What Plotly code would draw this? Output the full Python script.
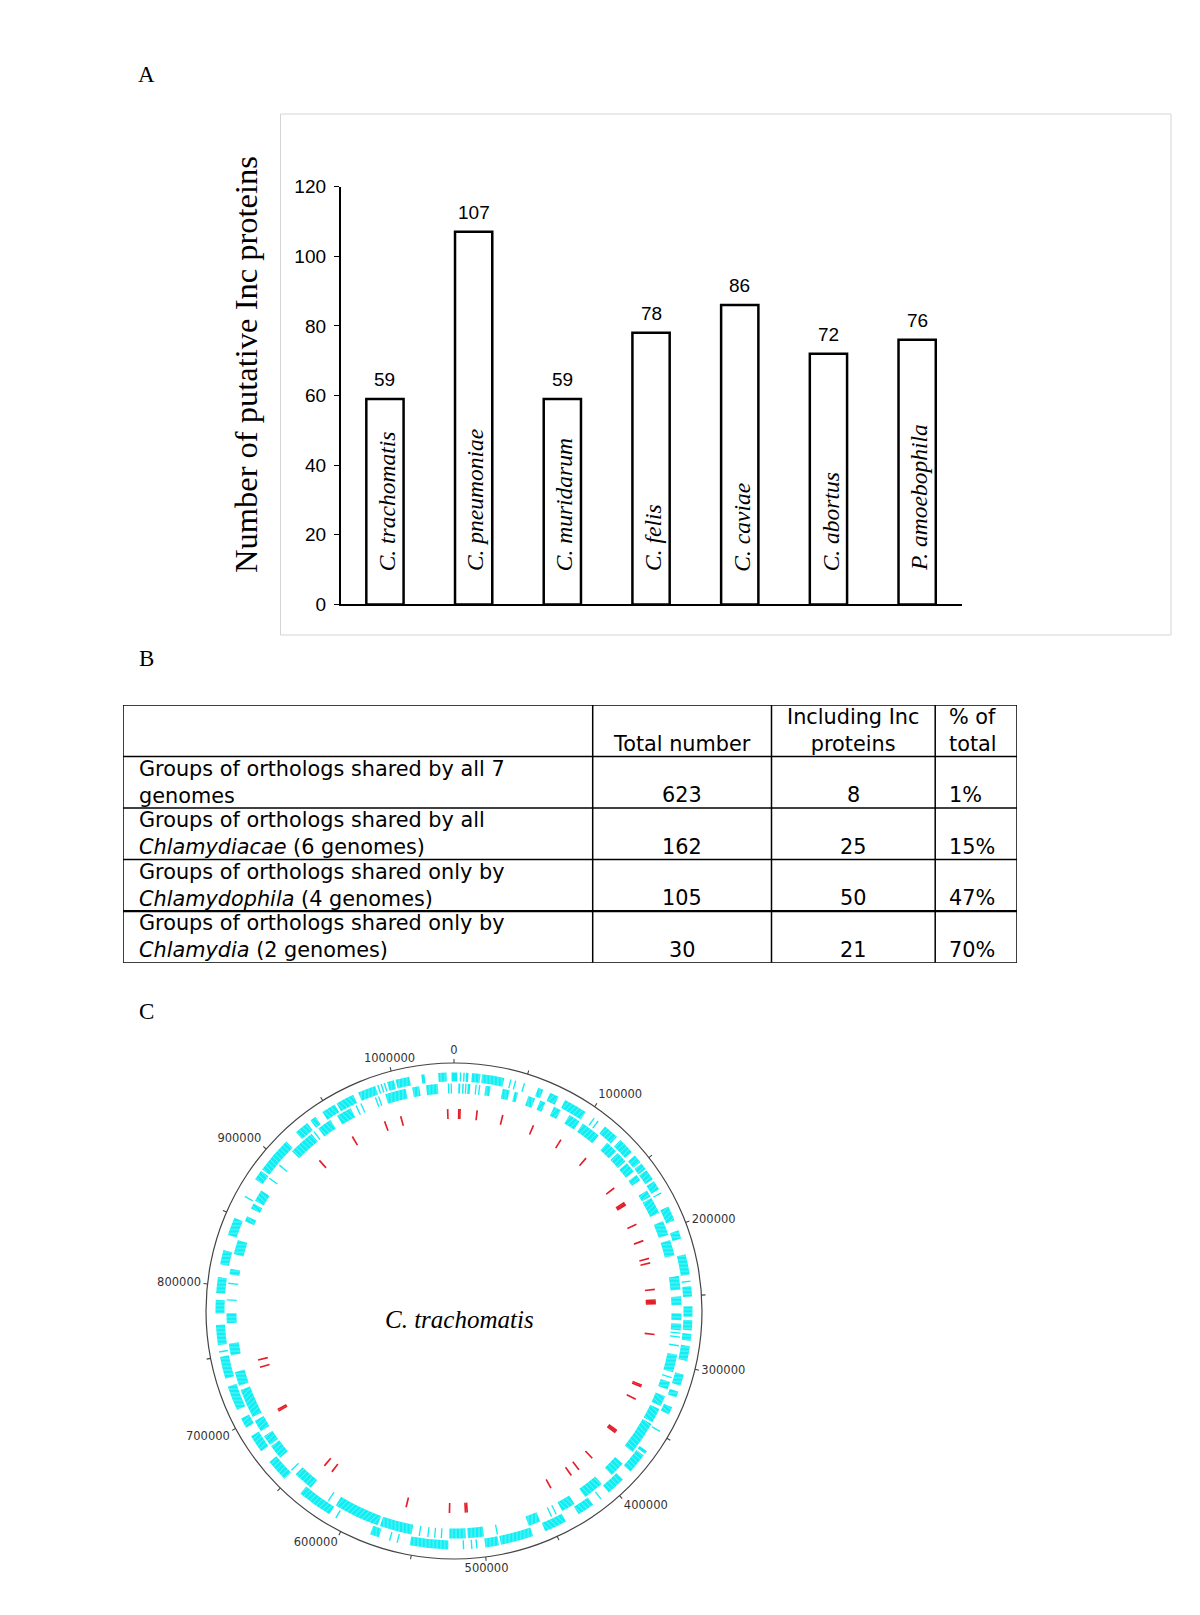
import math
import plotly.graph_objects as go

W, H = 1200, 1615

# ---------------- Panel A data ----------------
SPECIES = ["C. trachomatis", "C. pneumoniae", "C. muridarum", "C. felis",
           "C. caviae", "C. abortus", "P. amoebophila"]
INC_COUNTS = [59, 107, 59, 78, 86, 72, 76]
Y_TICKS = [0, 20, 40, 60, 80, 100, 120]

# ---------------- Panel B data ----------------
TABLE_HEADER = ["", "Total number", "Including Inc<br>proteins", "% of<br>total"]
ROW_LABELS = [
    "Groups of orthologs shared by all 7<br>genomes",
    "Groups of orthologs shared by all<br><i>Chlamydiacae</i> (6 genomes)",
    "Groups of orthologs shared only by<br><i>Chlamydophila</i> (4 genomes)",
    "Groups of orthologs shared only by<br><i>Chlamydia</i> (2 genomes)",
]
TOTAL_NUMBERS = [623, 162, 105, 30]
INC_NUMBERS = [8, 25, 50, 21]
PCT_LABELS = ["1%", "15%", "47%", "70%"]

# ---------------- Panel C data (positions in kb) ----------------
GENOME_LEN = 1042519
AXIS_TICKS = list(range(0, 1000001, 50000))
AXIS_LABELS = list(range(0, 1000001, 100000))
GENOME_NAME = "C. trachomatis"

OUTER_GENES_KB = [
    (922.4, 932.5), (935.4, 939.7), (945.5, 955.6), (957.1, 970.1), (973.9, 986.6),
    (988.0, 989.0), (990.5, 991.5), (992.8, 993.8), (995.3, 1000.2), (1001.4, 1011.2),
    (1019.6, 1021.9), (1031.5, 1037.3), (1040.8, 1042.5), (0.0, 2.3), (4.1, 5.1),
    (6.5, 7.5), (8.4, 10.1), (12.5, 18.5), (19.7, 35.3), (39.5, 40.5), (42.9, 43.9),
    (49.3, 50.3), (59.9, 63.7), (68.9, 75.3), (80.5, 97.0), (103.8, 104.8),
    (107.2, 108.2), (113.8, 124.8), (128.0, 139.6), (142.8, 148.8), (150.0, 154.9),
    (155.8, 163.6), (165.1, 171.7), (174.1, 175.1), (185.3, 195.8), (203.3, 209.4),
    (220.7, 235.2), (239.3, 240.3), (243.3, 250.5), (257.4, 264.7), (267.0, 274.2),
    (276.6, 281.5), (285.2, 295.7), (305.5, 313.6), (318.0, 322.3), (329.6, 335.1),
    (347.9, 348.9), (364.9, 367.2), (368.6, 383.1), (390.7, 404.0), (410.7, 411.7),
    (417.9, 430.0), (440.2, 456.1), (465.1, 488.3), (489.7, 499.3), (504.8, 505.8),
    (508.3, 509.3), (514.1, 515.1), (525.3, 552.3), (560.7, 561.7), (566.2, 567.2),
    (574.5, 580.9), (606.8, 607.8), (612.5, 637.4), (652.4, 668.1), (677.6, 690.1),
    (697.0, 704.3), (710.9, 728.3), (734.1, 749.7), (752.7, 753.7), (757.9, 772.1),
    (780.2, 789.7), (794.4, 805.6), (814.6, 824.8), (835.8, 848.5), (864.5, 865.5),
    (878.9, 886.1), (887.3, 913.1),
]

INNER_GENES_KB = [
    (911.0, 930.2), (932.0, 933.0), (936.5, 947.2), (953.0, 964.3), (968.2, 969.2),
    (972.0, 973.0), (983.5, 984.5), (985.9, 986.9), (991.5, 1006.9), (1011.8, 1017.0),
    (1022.0, 1030.6), (1038.0, 1039.0), (1040.0, 1041.0), (3.2, 4.6), (6.1, 7.2),
    (8.2, 9.2), (10.1, 11.9), (15.7, 16.7), (18.3, 19.3), (23.2, 26.9), (35.9, 41.1),
    (44.9, 47.5), (55.3, 60.5), (64.6, 68.6), (75.6, 81.1), (88.3, 97.0), (99.9, 114.4),
    (122.5, 131.5), (133.2, 141.6), (143.3, 151.2), (154.4, 159.0), (168.0, 173.2),
    (174.3, 186.5), (193.2, 203.9), (207.9, 219.5), (234.9, 245.0), (249.9, 256.3),
    (262.4, 267.3), (269.9, 274.8), (276.3, 277.3), (279.2, 280.2), (285.6, 286.6),
    (292.8, 305.8), (309.4, 310.4), (313.3, 319.1), (324.3, 332.2), (334.5, 345.5),
    (346.9, 371.5), (382.8, 394.1), (404.0, 419.3), (428.6, 439.0), (443.4, 444.4),
    (447.2, 448.2), (456.7, 465.7), (488.9, 489.9), (499.3, 511.1), (512.6, 524.7),
    (530.0, 531.0), (534.9, 535.9), (539.9, 540.9), (546.2, 547.2), (552.5, 576.3),
    (578.0, 611.9), (617.8, 618.8), (634.2, 649.0), (652.8, 653.8), (665.5, 676.2),
    (677.6, 685.2), (689.5, 698.2), (701.4, 723.1), (726.3, 736.7), (749.2, 757.9),
    (772.9, 780.2), (789.5, 790.5), (801.7, 802.7), (808.8, 812.9), (823.9, 834.6),
    (849.1, 853.1), (859.5, 863.6), (865.9, 874.6), (884.8, 885.8), (896.9, 897.9),
]

INC_GENES_KB = [
    4.0, 5.0, 19.1, 40.5, 67.1, 92.6, 118.2, 152.0, 166.6, 167.7, 168.8, 187.0,
    201.6, 216.9, 220.7, 242.9, 251.6, 252.6, 253.6, 254.6, 280.0, 323.1, 324.3,
    335.6, 365.7, 366.8, 367.9, 396.2, 410.6, 418.4, 438.2, 510.4, 511.8, 525.0,
    561.0, 629.0, 636.9, 696.0, 697.3, 735.1, 741.2, 921.5, 955.0, 984.3, 998.2,
    1037.3,
]

# ---------------- styles ----------------
SERIF = "Liberation Serif, Times New Roman, serif"
SANS = "Liberation Sans, Arial, sans-serif"
VERDANA = "DejaVu Sans, Verdana, sans-serif"
CYAN = "#10eef3"
RED = "#e3202a"
AXIS_GREY = "#444444"


def px_x(v):
    return v / W


def px_y(v):
    return 1 - v / H


fig = go.Figure()

# ======== Panel A: bar chart ========
fig.add_trace(go.Bar(
    x=SPECIES, y=INC_COUNTS, width=0.42,
    marker=dict(color="white", line=dict(color="black", width=2.5)),
    xaxis="x", yaxis="y", showlegend=False, hoverinfo="skip",
))

annotations = []
for sp, v in zip(SPECIES, INC_COUNTS):
    annotations.append(dict(x=sp, y=v, xref="x", yref="y", text=str(v), showarrow=False,
                            xanchor="center", yanchor="middle", yshift=19,
                            font=dict(family=SANS, size=19, color="black")))
    annotations.append(dict(x=sp, y=0, xref="x", yref="y", text=f"<i>{sp}</i>", showarrow=False,
                            textangle=-90, yanchor="bottom", xanchor="center", yshift=31, xshift=2,
                            font=dict(family=SERIF, size=23.5, color="black")))

annotations.append(dict(x=px_x(246), y=px_y(364), xref="paper", yref="paper",
                        xanchor="center", yanchor="middle",
                        text="Number of putative Inc proteins", textangle=-90, showarrow=False,
                        font=dict(family=SERIF, size=32.5, color="black")))

for letter, yy in (("A", 75), ("B", 658), ("C", 1011)):
    annotations.append(dict(x=px_x(146), y=px_y(yy), xref="paper", yref="paper", text=letter,
                            xanchor="center", yanchor="middle",
                            showarrow=False, font=dict(family=SERIF, size=23, color="black")))

shapes = [dict(type="rect", xref="paper", yref="paper",
               x0=px_x(280.5), x1=px_x(1171), y0=px_y(635), y1=px_y(114),
               line=dict(color="#d4d4d4", width=1), fillcolor="rgba(0,0,0,0)")]

# ======== Panel B: table drawn on its own axes ========
COL_EDGES = [0, 469.7, 648.5, 812.2, 894.0]   # in table px units
COL_ALIGN = ["left", "center", "center", "left"]
COL_PAD = [14, 0, 0, 12]
LINE_H = 26
table_rows = [TABLE_HEADER] + [
    [ROW_LABELS[i], str(TOTAL_NUMBERS[i]), str(INC_NUMBERS[i]), PCT_LABELS[i]]
    for i in range(len(ROW_LABELS))
]
n_rows = len(table_rows)
for ri, row in enumerate(table_rows):
    for ci, txt in enumerate(row):
        if not txt:
            continue
        n_lines = txt.count("<br>") + 1
        if COL_ALIGN[ci] == "left":
            xx, xa = COL_EDGES[ci], "left"
        else:
            xx, xa = (COL_EDGES[ci] + COL_EDGES[ci + 1]) / 2, "center"
        annotations.append(dict(x=xx, y=ri + 0.5, xref="x2", yref="y2", text=txt,
                                showarrow=False, xanchor=xa, yanchor="middle", align=COL_ALIGN[ci],
                                xshift=COL_PAD[ci], yshift=-(LINE_H / 2) * (2 - n_lines),
                                font=dict(family=VERDANA, size=20.8, color="black")))
for ri in range(n_rows + 1):
    shapes.append(dict(type="line", xref="x2", yref="y2", x0=COL_EDGES[0], x1=COL_EDGES[-1],
                       y0=ri, y1=ri, line=dict(color="black", width=2.3 if ri == 4 else 1.5)))
for ce in COL_EDGES:
    shapes.append(dict(type="line", xref="x2", yref="y2", x0=ce, x1=ce, y0=0, y1=n_rows,
                       line=dict(color="black", width=1.5)))

# ======== Panel C: circular genome map ========
DEG_PER_KB = 1000 * 360 / GENOME_LEN
OUTER_R = (229.5, 238.5)
INNER_R = (217.5, 227.5)
INC_R = (192, 202)
CIRCLE_R = 248          # radius of the genome circle (px == radial units)
POLAR_R = 262           # radial range of the subplot (room for tick labels)
TICK_LEN = 4
LABEL_R = 254.5
THIN_KB = 1.0
STRIPE_SHAPES = ["|", "/", "-", "\\"]   # radial stripe orientation per 45-degree sector
CX, CY = 454, 1311


def solid_track(genes, radii, color):
    th = [(s + e) / 2 * DEG_PER_KB for s, e in genes]
    wd = [max(e - s, THIN_KB) * DEG_PER_KB for s, e in genes]
    return go.Barpolar(theta=th, r=[radii[1] - radii[0]] * len(genes), base=radii[0],
                       width=wd, marker=dict(color=color, line=dict(width=0)),
                       subplot="polar", showlegend=False, hoverinfo="skip")


def stripe_overlays(tracks):
    """Thin white radial hatching over wide gene blocks (visual texture only)."""
    out = []
    for k, shp in enumerate(STRIPE_SHAPES):
        th, wd, rr, bb = [], [], [], []
        for genes, radii in tracks:
            for s, e in genes:
                t = (s + e) / 2 * DEG_PER_KB
                if e - s <= 2.5 or int(round(t / 45.0)) % 4 != k:
                    continue
                th.append(t)
                wd.append((e - s) * DEG_PER_KB)
                rr.append(radii[1] - radii[0])
                bb.append(radii[0])
        if th:
            out.append(go.Barpolar(
                theta=th, r=rr, base=bb, width=wd,
                marker=dict(color="rgba(0,0,0,0)", line=dict(width=0),
                            pattern=dict(shape=shp, fgcolor="white", size=3.8,
                                         solidity=0.2, fillmode="overlay")),
                subplot="polar", showlegend=False, hoverinfo="skip"))
    return out


def label_position(theta_deg):
    s, c = math.sin(math.radians(theta_deg)), math.cos(math.radians(theta_deg))
    vert = "top" if c > 0.4 else ("bottom" if c < -0.4 else "middle")
    hor = "right" if s > 0.4 else ("left" if s < -0.4 else "center")
    return f"{vert} {hor}"


fig.add_trace(solid_track(OUTER_GENES_KB, OUTER_R, CYAN))
fig.add_trace(solid_track(INNER_GENES_KB, INNER_R, CYAN))
for tr in stripe_overlays([(OUTER_GENES_KB, OUTER_R), (INNER_GENES_KB, INNER_R)]):
    fig.add_trace(tr)
fig.add_trace(solid_track([(p - 0.7, p + 0.7) for p in INC_GENES_KB], INC_R, RED))

# genome circle (two half rings) and ticks
fig.add_trace(go.Barpolar(theta=[90, 270], width=[180, 180], base=[CIRCLE_R - 0.6] * 2,
                          r=[1.2, 1.2], marker=dict(color=AXIS_GREY, line=dict(width=0)),
                          subplot="polar", showlegend=False, hoverinfo="skip"))
fig.add_trace(go.Barpolar(theta=[v / 1000 * DEG_PER_KB for v in AXIS_TICKS],
                          width=[0.25] * len(AXIS_TICKS), base=[CIRCLE_R] * len(AXIS_TICKS),
                          r=[TICK_LEN] * len(AXIS_TICKS),
                          marker=dict(color=AXIS_GREY, line=dict(width=0)),
                          subplot="polar", showlegend=False, hoverinfo="skip"))

label_theta = [v / 1000 * DEG_PER_KB for v in AXIS_LABELS]
fig.add_trace(go.Scatterpolar(
    theta=label_theta, r=[LABEL_R] * len(AXIS_LABELS), mode="text",
    text=[str(v) for v in AXIS_LABELS],
    textposition=[label_position(t) for t in label_theta],
    textfont=dict(family=VERDANA, size=11.5, color="#333"),
    cliponaxis=False, subplot="polar", showlegend=False, hoverinfo="skip"))

annotations.append(dict(x=px_x(459), y=px_y(1319), xref="paper", yref="paper",
                        xanchor="center", yanchor="middle",
                        text=f"<i>{GENOME_NAME}</i>", showarrow=False,
                        font=dict(family=SERIF, size=25, color="black")))

fig.update_layout(
    template="none",
    width=W, height=H, autosize=False,
    margin=dict(l=0, r=0, t=0, b=0, pad=0, autoexpand=False),
    paper_bgcolor="white", plot_bgcolor="white",
    xaxis=dict(domain=[px_x(340.6), px_x(961.5)], range=[-0.5, 6.5], type="category",
               showline=True, linecolor="black", linewidth=2, showticklabels=False,
               ticks="", showgrid=False, zeroline=False, fixedrange=True, automargin=False),
    yaxis=dict(domain=[px_y(604.4), px_y(186.6)], range=[0, 120], tickvals=Y_TICKS,
               showline=True, linecolor="black", linewidth=1.5, ticks="outside", ticklen=5,
               tickwidth=1.2, tickcolor="black", showgrid=False, zeroline=False,
               ticklabelstandoff=4, automargin=False,
               tickfont=dict(family=SANS, size=19, color="black"), fixedrange=True),
    xaxis2=dict(domain=[px_x(123), px_x(1017)], range=[COL_EDGES[0], COL_EDGES[-1]],
                visible=False, anchor="y2", fixedrange=True, automargin=False),
    yaxis2=dict(domain=[px_y(962.7), px_y(705)], range=[n_rows, 0],
                visible=False, anchor="x2", fixedrange=True, automargin=False),
    polar=dict(
        domain=dict(x=[px_x(CX - POLAR_R), px_x(CX + POLAR_R)],
                    y=[px_y(CY + POLAR_R), px_y(CY - POLAR_R)]),
        bgcolor="rgba(0,0,0,0)", hole=0, barmode="overlay", bargap=0,
        radialaxis=dict(visible=False, range=[0, POLAR_R]),
        angularaxis=dict(
            rotation=90, direction="clockwise", thetaunit="degrees",
            showticklabels=False, ticks="", showline=False, showgrid=False,
        ),
    ),
    annotations=annotations,
    shapes=shapes,
)

fig.write_html("out.html", config={"displayModeBar": False},
               post_script="document.body.style.margin='0';")
